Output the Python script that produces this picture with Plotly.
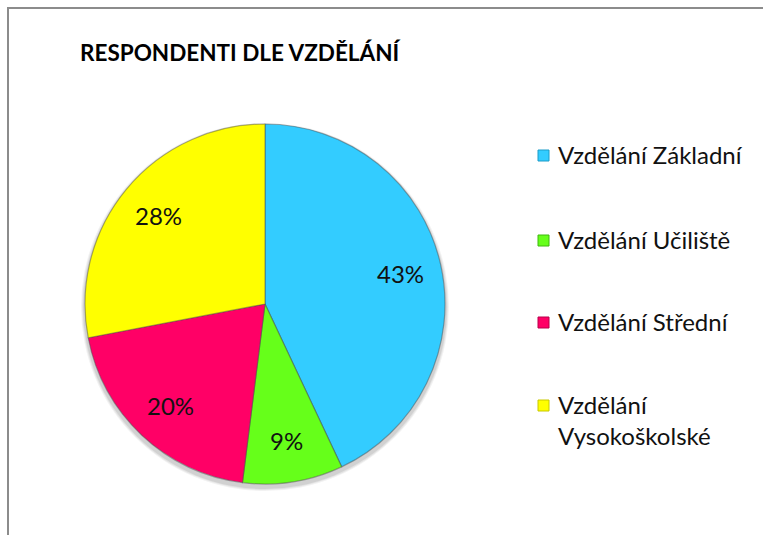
import math
import plotly.graph_objects as go

# Respondents by education level
categories = ["Vzdělání Základní", "Vzdělání Učiliště", "Vzdělání Střední", "Vzdělání Vysokoškolské"]
shares = [43, 9, 20, 28]
colors = ["#33CCFF", "#66FF1A", "#FF0066", "#FFFF00"]
edge_colors = ["#1C9CC8", "#3FB80E", "#B8004A", "#C8C800"]
legend_labels = ["Vzdělání Základní", "Vzdělání Učiliště", "Vzdělání Střední", "Vzdělání<br>Vysokoškolské"]

W, H = 763, 535
FONT = "Lato, Calibri, Carlito, sans-serif"

# pie placement in pixels
cx, cy, r = 265, 304, 180
label_radius = 0.77

shapes = []
annotations = []

# soft drop shadow under the pie
for k, a in enumerate([0.05, 0.06, 0.08]):
    grow = 4 - k
    shapes.append(dict(type="circle", xref="paper", yref="paper", layer="below",
                       x0=(cx - r - grow) / W, x1=(cx + r + grow) / W,
                       y0=1 - (cy + r + grow + 3) / H, y1=1 - (cy - r - grow + 3) / H,
                       line=dict(width=0), fillcolor=f"rgba(0,0,0,{a})"))

fig = go.Figure()

fig.add_trace(go.Pie(
    labels=categories,
    values=shares,
    sort=False,
    direction="clockwise",
    rotation=0,
    marker=dict(colors=colors, line=dict(color="rgba(70,70,70,0.45)", width=1.2)),
    textinfo="none",
    hoverinfo="label+percent",
    showlegend=False,
    domain=dict(x=[(cx - r) / W, (cx + r) / W], y=[1 - (cy + r) / H, 1 - (cy - r) / H]),
))

# percentage labels placed along each slice's mid-angle
total = sum(shares)
acc = 0
for v in shares:
    mid = (acc + v / 2) / total * 2 * math.pi
    acc += v
    px = cx + label_radius * r * math.sin(mid)
    py = cy - label_radius * r * math.cos(mid)
    annotations.append(dict(xref="paper", yref="paper", x=px / W, y=1 - py / H,
                            xanchor="center", yanchor="middle", showarrow=False,
                            text=f"{round(v / total * 100)}%",
                            font=dict(family=FONT, size=24, color="#111111")))

# chart frame
shapes.append(dict(type="rect", xref="paper", yref="paper",
                   x0=8 / W, x1=1.2, y0=-0.2, y1=1 - 8 / H,
                   line=dict(color="#8C8C8C", width=2), fillcolor="rgba(0,0,0,0)", layer="below"))

# legend entries
legend_y = [155, 240, 322, 405]
for lab, col, ec, y in zip(legend_labels, colors, edge_colors, legend_y):
    shapes.append(dict(type="rect", xref="paper", yref="paper",
                       x0=538 / W, x1=549 / W, y0=1 - (y + 6) / H, y1=1 - (y - 5) / H,
                       line=dict(color=ec, width=1), fillcolor=col))
    annotations.append(dict(xref="paper", yref="paper", x=556 / W, y=1 - (y - 17) / H,
                            xanchor="left", yanchor="top", align="left",
                            text=lab, showarrow=False,
                            font=dict(family=FONT, size=24, color="#111111")))

# title
annotations.append(dict(xref="paper", yref="paper", x=78 / W, y=1 - 52 / H,
                        xanchor="left", yanchor="middle",
                        text="<b>RESPONDENTI DLE VZDĚLÁNÍ</b>", showarrow=False,
                        font=dict(family=FONT, size=22.5, color="#000000")))

fig.update_layout(
    width=W, height=H,
    margin=dict(l=0, r=0, t=0, b=0),
    paper_bgcolor="white",
    plot_bgcolor="white",
    shapes=shapes,
    annotations=annotations,
)

fig.write_html("out.html")
